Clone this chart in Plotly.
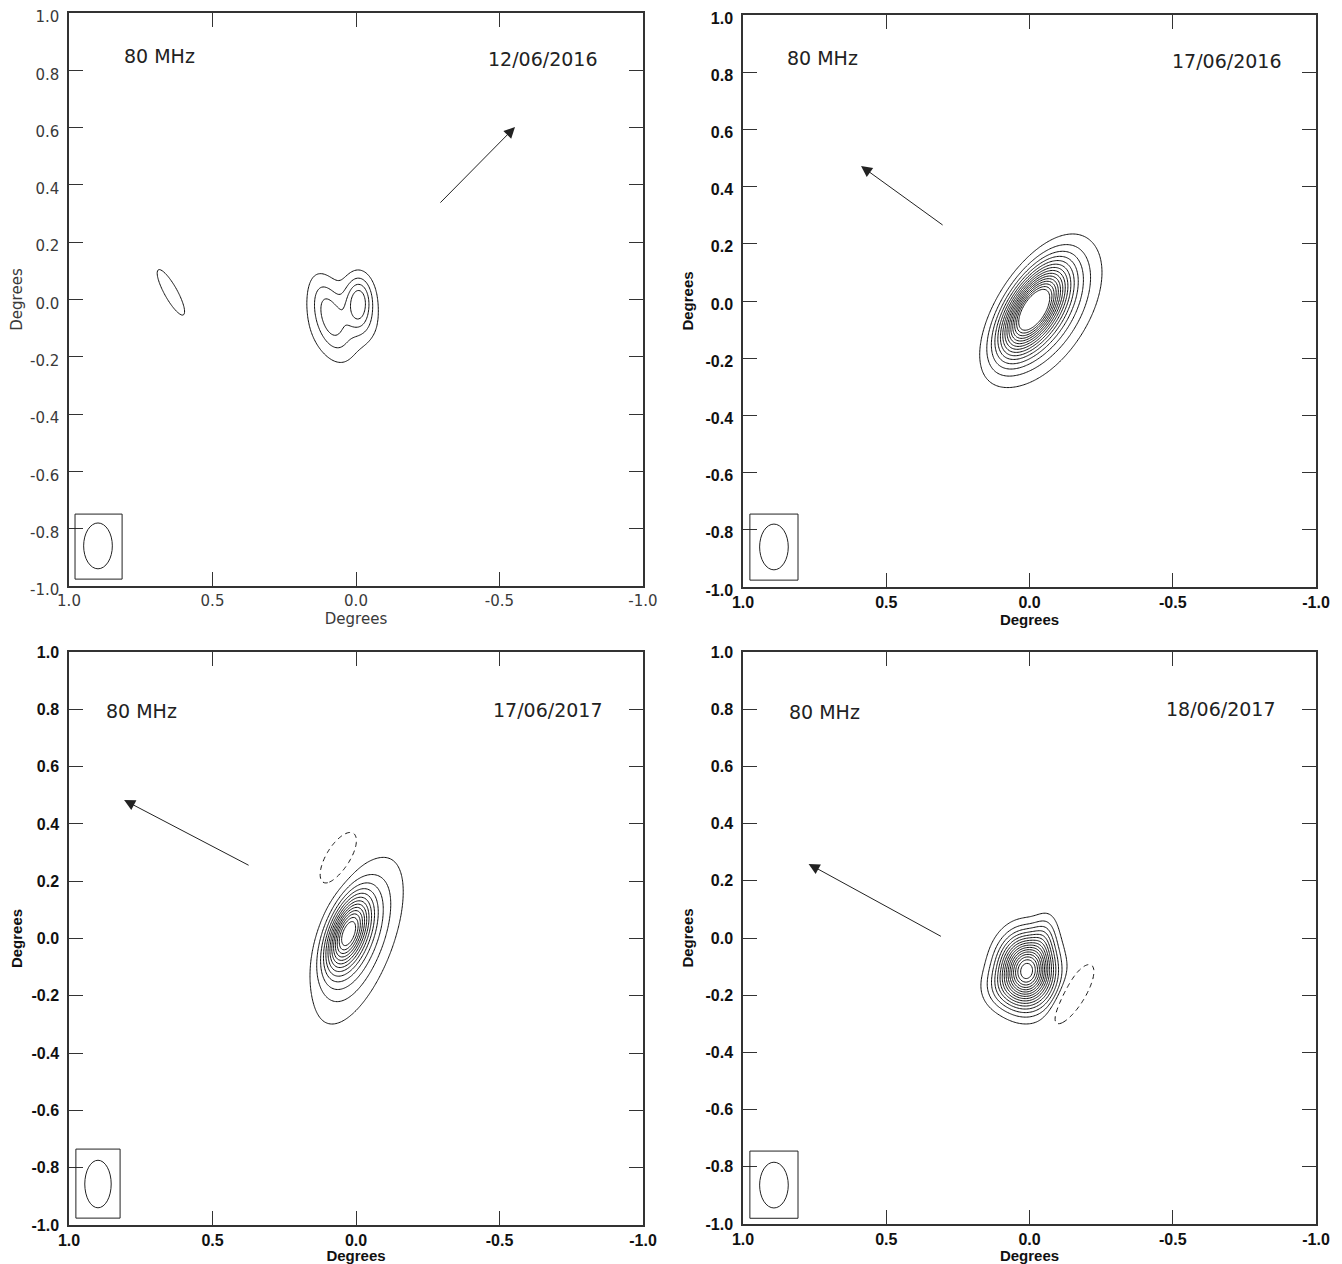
import numpy as np
import plotly.graph_objects as go

# ---------------- data ----------------
X_TICKS = [1.0, 0.5, 0.0, -0.5, -1.0]
X_TICK_LABELS = ["1.0", "0.5", "0.0", "-0.5", "-1.0"]
Y_TICKS = [1.0, 0.8, 0.6, 0.4, 0.2, 0.0, -0.2, -0.4, -0.6, -0.8, -1.0]
Y_TICK_LABELS = ["1.0", "0.8", "0.6", "0.4", "0.2", "0.0", "-0.2", "-0.4", "-0.6", "-0.8", "-1.0"]

FREQ_LABEL = "80 MHz"
DATES = ["12/06/2016", "17/06/2016", "17/06/2017", "18/06/2017"]
AXIS_TITLE = "Degrees"

# Gaussian source components read from each map:
# amplitude, centre x, centre y (deg), sigma major, sigma minor (deg), angle (deg)
P1_AMP = [0.80, 0.50, 0.28, 0.12, 0.30]
P1_X0 = [-0.010, 0.095, 0.050, -0.015, 0.645]
P1_Y0 = [-0.005, -0.050, -0.080, -0.085, 0.025]
P1_SMAJ = [0.058, 0.090, 0.110, 0.040, 0.100]
P1_SMIN = [0.032, 0.036, 0.100, 0.035, 0.025]
P1_PA = [90, 74, 90, 90, 61]

P2_AMP = [1.00, 0.35]
P2_X0 = [-0.010, -0.060]
P2_Y0 = [-0.030, -0.040]
P2_SMAJ = [0.110, 0.155]
P2_SMIN = [0.050, 0.080]
P2_PA = [122, 122]

P3_AMP = [1.00, 0.35, -0.15]
P3_X0 = [0.030, -0.010, 0.060]
P3_Y0 = [0.020, -0.010, 0.280]
P3_SMAJ = [0.090, 0.170, 0.070]
P3_SMIN = [0.040, 0.065, 0.030]
P3_PA = [111, 111, 121]

P4_AMP = [1.00, 0.12, 0.10, -0.20]
P4_X0 = [0.010, -0.050, 0.100, -0.150]
P4_Y0 = [-0.115, 0.000, -0.180, -0.200]
P4_SMAJ = [0.078, 0.060, 0.050, 0.075]
P4_SMIN = [0.060, 0.030, 0.050, 0.025]
P4_PA = [90, 100, 0, 122]

# contour levels: first positive level, step, number of levels, negative level
LEVEL_START = [0.2, 0.07, 0.07, 0.06]
LEVEL_STEP = [0.2, 0.068, 0.09, 0.06]
LEVEL_COUNT = [4, 15, 13, 16]
NEG_LEVEL = [None, None, -0.05, -0.05]

# direction arrows (tail -> head), degrees
ARROW_TAIL_X = [-0.289, 0.298, 0.369, 0.304]
ARROW_TAIL_Y = [0.333, 0.262, 0.253, 0.003]
ARROW_HEAD_X = [-0.554, 0.588, 0.808, 0.771]
ARROW_HEAD_Y = [0.602, 0.472, 0.483, 0.259]

# restoring beam semi-axes (deg)
BEAM_SEMI_X = [0.050, 0.050, 0.046, 0.050]
BEAM_SEMI_Y = [0.080, 0.080, 0.083, 0.080]

COMPONENTS = [
    (P1_AMP, P1_X0, P1_Y0, P1_SMAJ, P1_SMIN, P1_PA),
    (P2_AMP, P2_X0, P2_Y0, P2_SMAJ, P2_SMIN, P2_PA),
    (P3_AMP, P3_X0, P3_Y0, P3_SMAJ, P3_SMIN, P3_PA),
    (P4_AMP, P4_X0, P4_Y0, P4_SMAJ, P4_SMIN, P4_PA),
]

# ---------------- layout constants ----------------
OFF = 8  # page body margin
W, H = 1342 - OFF, 1264 - OFF


def dx_(a, b):
    return [(a - OFF) / W, (b - OFF) / W]


def dy_(top, bottom):
    return [1 - (bottom - OFF) / H, 1 - (top - OFF) / H]


X_DOMAINS = [dx_(69, 643), dx_(743, 1316), dx_(69, 643), dx_(743, 1316)]
Y_DOMAINS = [dy_(13, 586), dy_(15, 587), dy_(652, 1225), dy_(652, 1224)]
Y_LABEL_SHIFT = [4, 3, 0, 0]
FREQ_POS = [(0.683, 0.85), (0.724, 0.85), (0.749, 0.794), (0.714, 0.79)]
DATE_POS = [(-0.652, 0.84), (-0.69, 0.84), (-0.669, 0.797), (-0.668, 0.80)]
BEAM_BOX = [(0.979, 0.815, -0.749, -0.976), (0.976, 0.808, -0.745, -0.976),
            (0.976, 0.822, -0.735, -0.976), (0.976, 0.808, -0.745, -0.980)]
BEAM_CENTRE = [(0.899, -0.860), (0.892, -0.860), (0.899, -0.857), (0.892, -0.864)]

grid = np.linspace(-1, 1, 401)
GX, GY = np.meshgrid(grid, grid)


def source_map(amp, x0, y0, smaj, smin, pa):
    z = np.zeros_like(GX)
    for a, cx, cy, s1, s2, t in zip(amp, x0, y0, smaj, smin, pa):
        th = np.deg2rad(t)
        ddx = GX - cx
        ddy = GY - cy
        u = ddx * np.cos(th) + ddy * np.sin(th)
        v = -ddx * np.sin(th) + ddy * np.cos(th)
        z += a * np.exp(-0.5 * ((u / s1) ** 2 + (v / s2) ** 2))
    return z


fig = go.Figure()
BLACK = [[0, "#111111"], [1, "#111111"]]

for i in range(4):
    sfx = "" if i == 0 else str(i + 1)
    xa, ya = "x" + sfx, "y" + sfx
    z = source_map(*COMPONENTS[i])
    start = LEVEL_START[i]
    end = start + LEVEL_STEP[i] * (LEVEL_COUNT[i] - 1)
    fig.add_trace(go.Contour(
        x=grid, y=grid, z=z, xaxis=xa, yaxis=ya,
        contours=dict(start=start, end=end + 1e-6, size=LEVEL_STEP[i], coloring="lines"),
        colorscale=BLACK, showscale=False, line=dict(width=1), hoverinfo="skip"))
    if NEG_LEVEL[i] is not None:
        fig.add_trace(go.Contour(
            x=grid, y=grid, z=z, xaxis=xa, yaxis=ya,
            contours=dict(start=NEG_LEVEL[i], end=NEG_LEVEL[i] + 1e-6, size=1, coloring="lines"),
            colorscale=BLACK, showscale=False, line=dict(width=1, dash="5px,4px"), hoverinfo="skip"))

    bold = i > 0
    tick_font = dict(family="Liberation Sans" if bold else "DejaVu Sans", size=16 if bold else 15,
                     color="#111111" if bold else "#3a3a3a", weight="bold" if bold else "normal")
    title_font = dict(family="Liberation Sans" if bold else "DejaVu Sans", size=15,
                      color="#111111" if bold else "#3a3a3a", weight="bold" if bold else "normal")
    common = dict(showgrid=False, zeroline=False, ticks="inside", ticklen=14, tickwidth=1.2,
                  tickcolor="#333333", showline=True, linewidth=1.5, linecolor="#333333",
                  mirror="ticks", tickfont=tick_font, automargin=False, ticklabeloverflow="allow")
    fig.layout["xaxis" + sfx] = dict(
        domain=X_DOMAINS[i], range=[1, -1], anchor=ya, tickmode="array",
        tickvals=X_TICKS, ticktext=X_TICK_LABELS,
        title=dict(text=AXIS_TITLE, font=title_font, standoff=0), **common)
    fig.layout["yaxis" + sfx] = dict(
        domain=Y_DOMAINS[i], range=[-1, 1], anchor=xa, tickmode="array",
        tickvals=Y_TICKS, ticktext=Y_TICK_LABELS, ticklabelstandoff=5,
        ticklabelshift=Y_LABEL_SHIFT[i],
        title=dict(text=AXIS_TITLE, font=title_font, standoff=8), **common)

    txt_font = dict(family="DejaVu Sans", size=19, color="#222222")
    fig.add_annotation(x=FREQ_POS[i][0], y=FREQ_POS[i][1], xref=xa, yref=ya, text=FREQ_LABEL,
                       showarrow=False, font=txt_font)
    fig.add_annotation(x=DATE_POS[i][0], y=DATE_POS[i][1], xref=xa, yref=ya, text=DATES[i],
                       showarrow=False, font=txt_font)
    fig.add_annotation(x=ARROW_HEAD_X[i], y=ARROW_HEAD_Y[i], ax=ARROW_TAIL_X[i], ay=ARROW_TAIL_Y[i],
                       xref=xa, yref=ya, axref=xa, ayref=ya, text="", showarrow=True,
                       arrowhead=2, arrowsize=2.2, arrowwidth=1, arrowcolor="#222222")
    bx0, bx1, by0, by1 = BEAM_BOX[i]
    fig.add_shape(type="rect", xref=xa, yref=ya, x0=bx0, x1=bx1, y0=by0, y1=by1,
                  line=dict(color="#222222", width=1))
    cx, cy = BEAM_CENTRE[i]
    fig.add_shape(type="circle", xref=xa, yref=ya,
                  x0=cx - BEAM_SEMI_X[i], x1=cx + BEAM_SEMI_X[i],
                  y0=cy - BEAM_SEMI_Y[i], y1=cy + BEAM_SEMI_Y[i],
                  line=dict(color="#222222", width=1))

fig.update_layout(width=W, height=H, margin=dict(l=0, r=0, t=0, b=0),
                  paper_bgcolor="white", plot_bgcolor="white", showlegend=False)

fig.write_html("out.html")
